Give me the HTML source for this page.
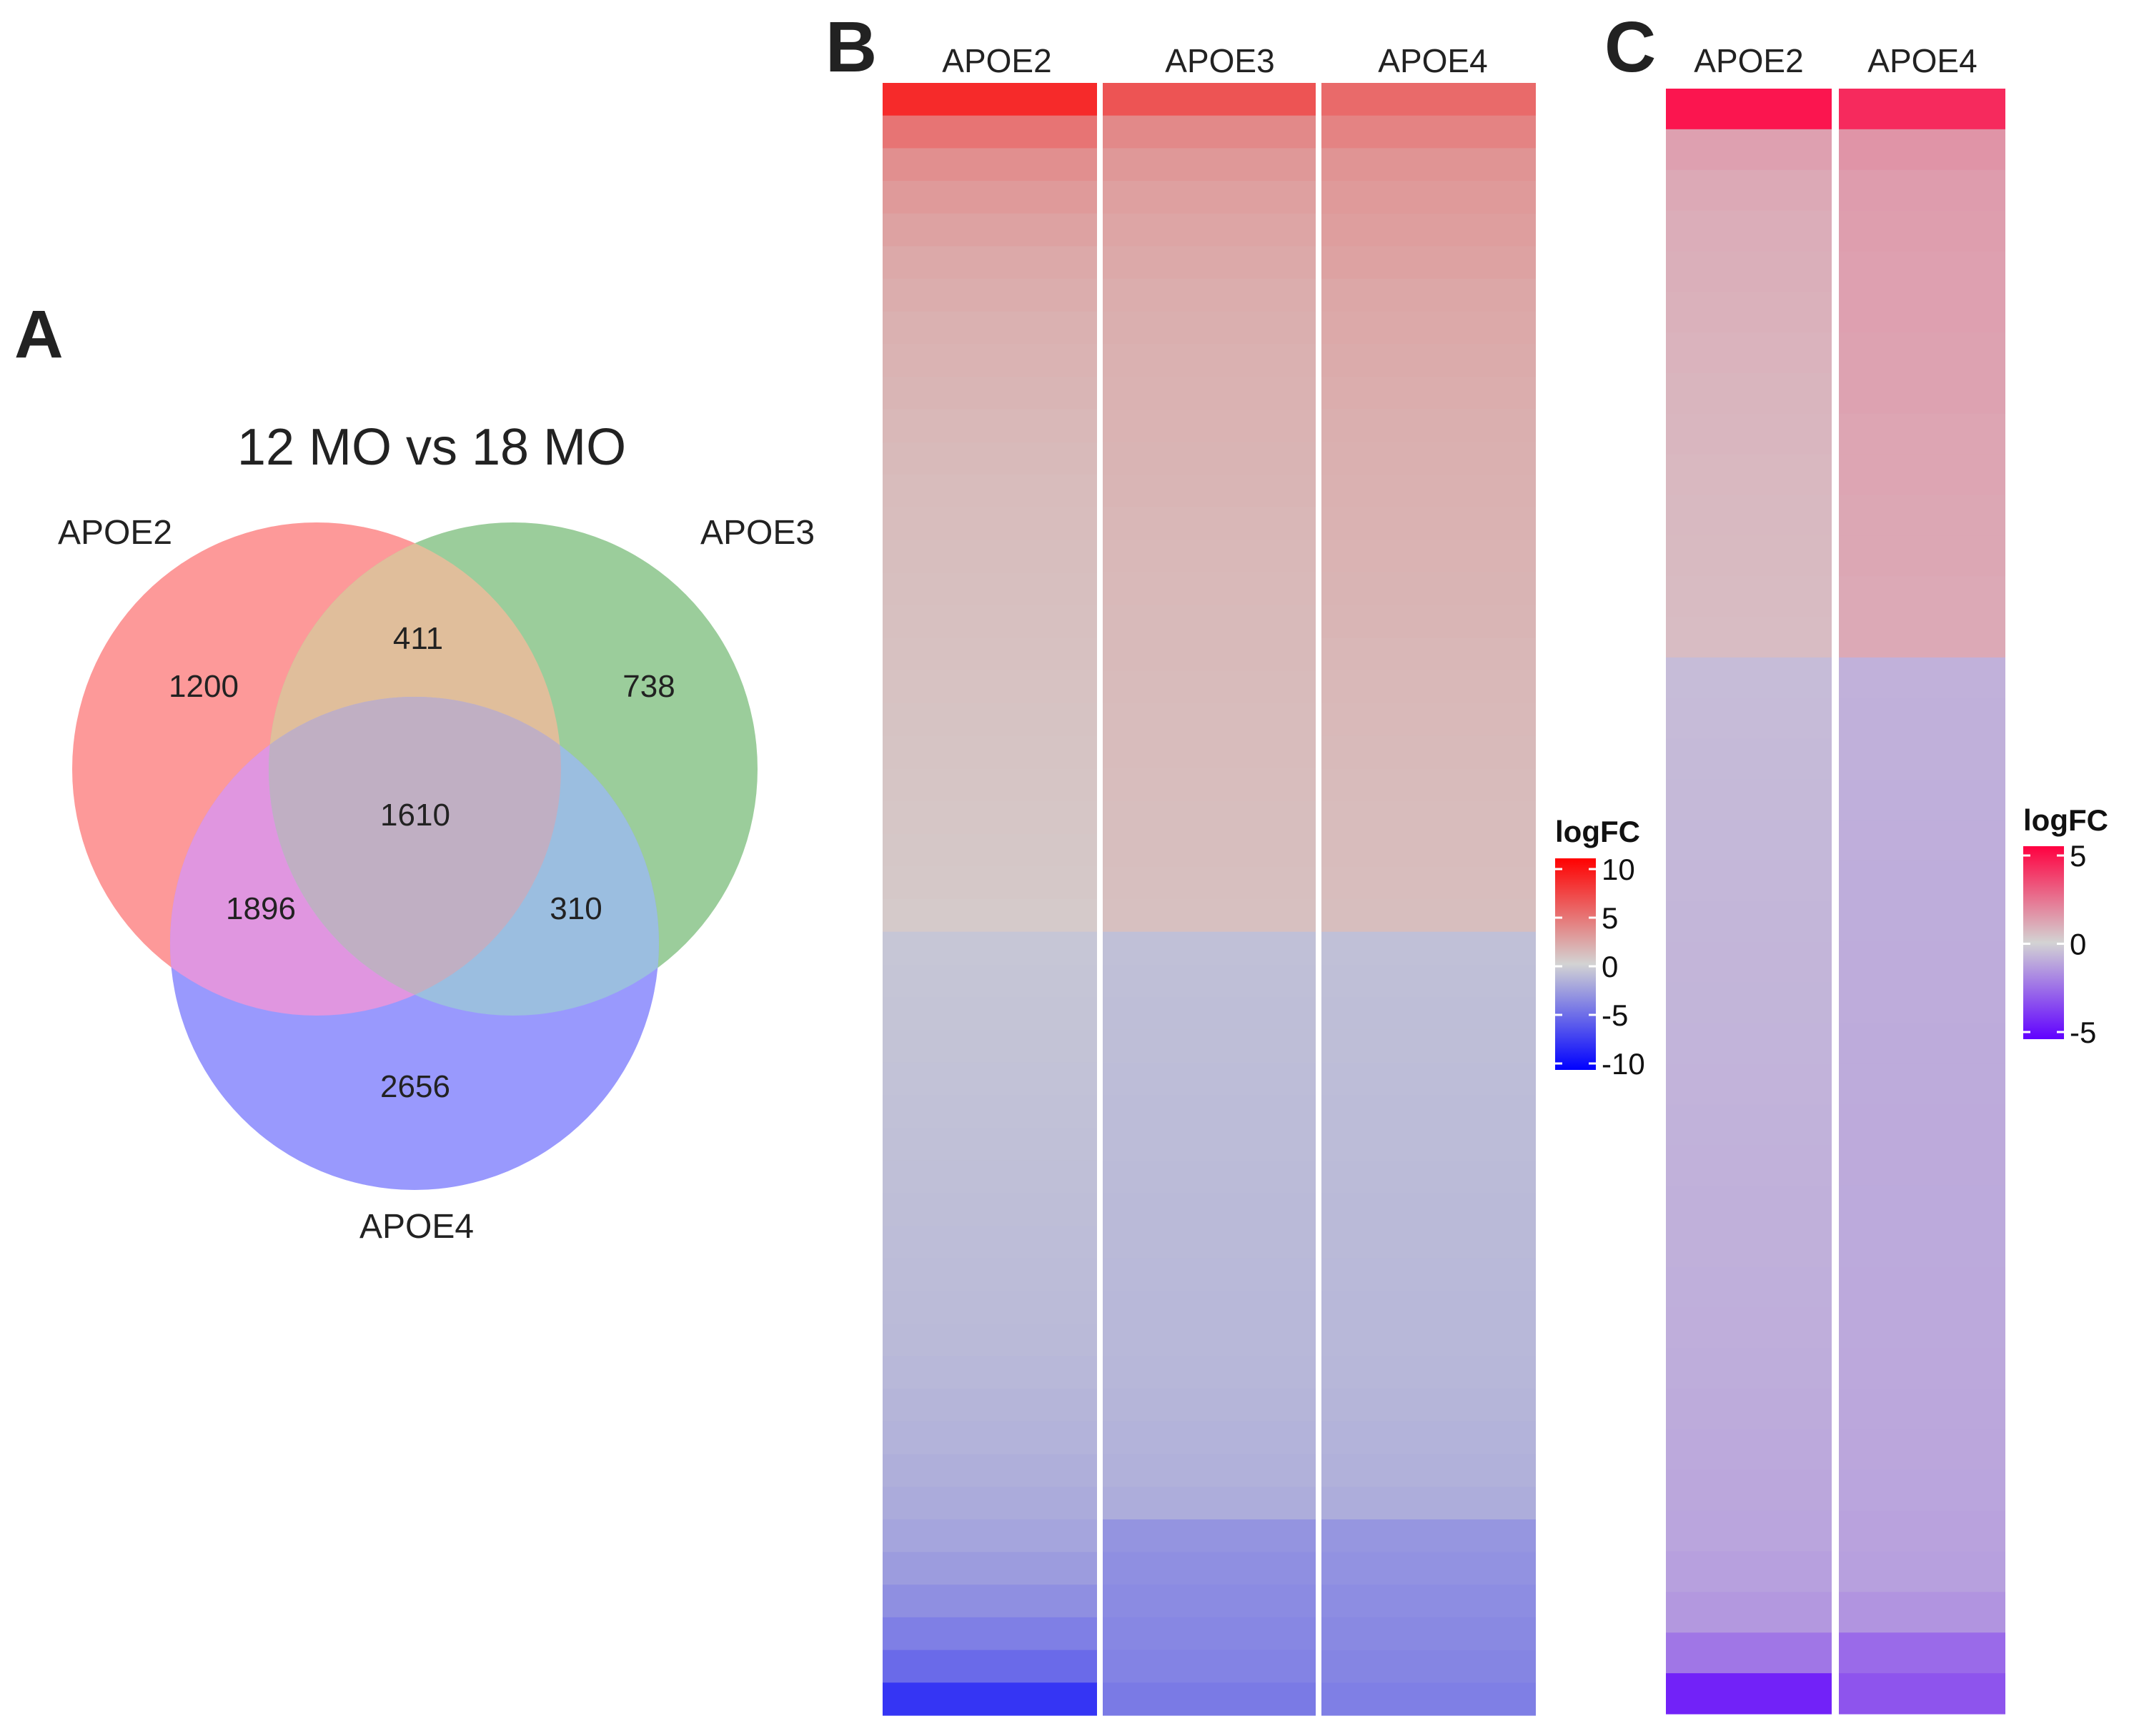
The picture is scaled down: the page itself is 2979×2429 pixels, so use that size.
<!DOCTYPE html>
<html><head><meta charset="utf-8"><style>
html,body{margin:0;padding:0;background:#fff;}
svg{display:block;font-family:"Liberation Sans",Arial,sans-serif;}
</style></head><body>
<svg id="fig" width="2979" height="2429" viewBox="0 0 2979 2429">
<defs>
<clipPath id="cA"><ellipse cx="443" cy="1076" rx="342" ry="345"/></clipPath>
<clipPath id="cB"><ellipse cx="718" cy="1076" rx="342" ry="345"/></clipPath>
<clipPath id="cC"><ellipse cx="580" cy="1320" rx="342" ry="345"/></clipPath>
<linearGradient id="gB" x1="0" y1="0" x2="0" y2="1">
<stop offset="0" stop-color="#ff0000"/><stop offset="0.5" stop-color="#d3d3d3"/><stop offset="1" stop-color="#0000ff"/></linearGradient>
<linearGradient id="gC" x1="0" y1="0" x2="0" y2="1">
<stop offset="0" stop-color="#ff0040"/><stop offset="0.5" stop-color="#d3d3d3"/><stop offset="1" stop-color="#6000ff"/></linearGradient>
</defs>
<text x="20" y="500" font-size="95" font-weight="bold" fill="#222">A</text>
<text x="604" y="650" font-size="72" text-anchor="middle" fill="#222">12 MO vs 18 MO</text>
<g>
<ellipse cx="443" cy="1076" rx="342" ry="345" fill="#fd9999"/>
<ellipse cx="718" cy="1076" rx="342" ry="345" fill="#9bcd9b"/>
<ellipse cx="580" cy="1320" rx="342" ry="345" fill="#9999fd"/>
<g clip-path="url(#cA)"><ellipse cx="718" cy="1076" rx="342" ry="345" fill="#e0be9b"/></g>
<g clip-path="url(#cA)"><ellipse cx="580" cy="1320" rx="342" ry="345" fill="#e096e0"/></g>
<g clip-path="url(#cB)"><ellipse cx="580" cy="1320" rx="342" ry="345" fill="#9bbee0"/></g>
<g clip-path="url(#cA)"><g clip-path="url(#cB)"><ellipse cx="580" cy="1320" rx="342" ry="345" fill="#c0afc3"/></g></g>
</g>
<g font-size="48" fill="#222">
<text x="161" y="761" text-anchor="middle">APOE2</text>
<text x="1060" y="761" text-anchor="middle">APOE3</text>
<text x="583" y="1732" text-anchor="middle">APOE4</text>
</g>
<g font-size="44" fill="#222" text-anchor="middle">
<text x="285" y="975">1200</text>
<text x="585" y="908">411</text>
<text x="908" y="975">738</text>
<text x="581" y="1155">1610</text>
<text x="365" y="1286">1896</text>
<text x="806" y="1286">310</text>
<text x="581" y="1535">2656</text>
</g>
<text x="1155" y="100" font-size="100" font-weight="bold" fill="#222">B</text>
<text x="2245" y="100" font-size="100" font-weight="bold" fill="#222">C</text>
<g font-size="46" fill="#222" text-anchor="middle">
<text x="1395" y="101">APOE2</text>
<text x="1707" y="101">APOE3</text>
<text x="2005" y="101">APOE4</text>
<text x="2447" y="101">APOE2</text>
<text x="2690" y="101">APOE4</text>
</g>
<g id="heatB"></g>
<g id="heatC"></g>
<g>
<text x="2176" y="1178" font-size="42" font-weight="bold" fill="#111">logFC</text>
<rect x="2176" y="1201" width="57" height="296" fill="url(#gB)"/>
<g id="legBticks"></g>
</g>
<g>
<text x="2831" y="1162" font-size="42" font-weight="bold" fill="#111">logFC</text>
<rect x="2831" y="1184" width="57" height="270" fill="url(#gC)"/>
<g id="legCticks"></g>
</g>
</svg>
<script>
const bApoe2 = [8,4.5,3.2,2.7,2.3,2.0,1.8,1.6,1.5,1.4,1.3,1.2,1.1,1.05,1.0,0.95,0.9,0.85,0.8,0.75,0.7,0.65,0.6,0.55,0.5,0.45,-0.6,-0.65,-0.7,-0.75,-0.8,-0.85,-0.9,-0.95,-1.0,-1.05,-1.1,-1.15,-1.2,-1.3,-1.4,-1.5,-1.7,-1.9,-2.2,-2.6,-3.2,-4,-5,-7.5];
const bApoe3 = [6,3.5,2.8,2.4,2.2,2.0,1.8,1.7,1.6,1.55,1.5,1.45,1.4,1.35,1.3,1.25,1.2,1.2,1.15,1.1,1.1,1.05,1.0,1.0,0.95,0.9,-0.9,-0.95,-1.0,-1.0,-1.05,-1.1,-1.1,-1.15,-1.2,-1.2,-1.25,-1.3,-1.3,-1.35,-1.4,-1.5,-1.6,-1.8,-3.0,-3.2,-3.4,-3.6,-3.8,-4.2];
const bApoe4 = [5,3.8,3.0,2.7,2.5,2.3,2.1,2.0,1.9,1.8,1.7,1.65,1.6,1.55,1.5,1.45,1.4,1.35,1.3,1.25,1.2,1.15,1.1,1.1,1.05,1.0,-0.9,-0.95,-1.0,-1.0,-1.05,-1.1,-1.1,-1.15,-1.2,-1.2,-1.25,-1.3,-1.3,-1.35,-1.4,-1.5,-1.6,-1.8,-2.9,-3.1,-3.3,-3.5,-3.7,-4.0];
const cApoe2 = [4.5,1.2,1.0,0.9,0.85,0.8,0.75,0.7,0.68,0.65,0.62,0.6,0.58,0.55,-0.55,-0.57,-0.6,-0.62,-0.64,-0.66,-0.68,-0.7,-0.72,-0.74,-0.76,-0.78,-0.8,-0.82,-0.84,-0.86,-0.88,-0.9,-0.95,-1.0,-1.05,-1.1,-1.2,-1.4,-2.2,-4.2];
const cApoe4 = [4.0,1.5,1.3,1.25,1.2,1.2,1.15,1.15,1.1,1.1,1.05,1.05,1.0,1.0,-0.8,-0.82,-0.84,-0.86,-0.88,-0.9,-0.9,-0.92,-0.92,-0.94,-0.94,-0.96,-0.96,-0.98,-0.98,-1.0,-1.0,-1.02,-1.04,-1.06,-1.1,-1.15,-1.2,-1.5,-2.5,-3.0];
const bTicks = [10,5,0,-5,-10];
const cTicks = [5,0,-5];

const NS = 'http://www.w3.org/2000/svg';
function colorScale(v, max, hi, lo){
  const mid=[211,211,211];
  let t=Math.max(-1,Math.min(1,v/max));
  const end=t>=0?hi:lo; t=Math.abs(t);
  const c=mid.map((m,i)=>Math.round(m+(end[i]-m)*t));
  return 'rgb('+c.join(',')+')';
}
function drawCol(g, vals, x0, x1, y0, y1, max, hi, lo, name){
  const h=(y1-y0)/vals.length;
  vals.forEach((v,i)=>{
    const r=document.createElementNS(NS,'rect');
    r.setAttribute('x',x0); r.setAttribute('width',x1-x0);
    r.setAttribute('y',y0+i*h); r.setAttribute('height',h+0.6);
    r.setAttribute('fill',colorScale(v,max,hi,lo));
    
    
    g.appendChild(r);
  });
}
const gB=document.getElementById('heatB'), gC=document.getElementById('heatC');
const redB=[255,0,0], blueB=[0,0,255], redC=[255,0,64], blueC=[96,0,255];
drawCol(gB,bApoe2,1235,1535,116,2400,10,redB,blueB,'heat-cell-b-apoe2');
drawCol(gB,bApoe3,1543,1841,116,2400,10,redB,blueB,'heat-cell-b-apoe3');
drawCol(gB,bApoe4,1849,2149,116,2400,10,redB,blueB,'heat-cell-b-apoe4');
drawCol(gC,cApoe2,2331,2563,124,2398,5,redC,blueC,'heat-cell-c-apoe2');
drawCol(gC,cApoe4,2573,2806,124,2398,5,redC,blueC,'heat-cell-c-apoe4');

function ticks(gid, vals, x, w, yTop, yBot, vmax){
  const g=document.getElementById(gid);
  vals.forEach(v=>{
    const y=yTop+(vmax-v)/(2*vmax)*(yBot-yTop);
    [[x,x+10],[x+w-10,x+w]].forEach(([a,b])=>{
      const l=document.createElementNS(NS,'line');
      l.setAttribute('x1',a);l.setAttribute('x2',b);l.setAttribute('y1',y);l.setAttribute('y2',y);
      l.setAttribute('stroke','#fff');l.setAttribute('stroke-width',3);
      
      
      g.appendChild(l);
    });
    const t=document.createElementNS(NS,'text');
    t.setAttribute('x',x+w+8);t.setAttribute('y',y+15);
    t.setAttribute('font-size','42');t.setAttribute('fill','#111');
    t.textContent=v;
    
    
    g.appendChild(t);
  });
}
ticks('legBticks',bTicks,2176,57,1216,1488,10);
ticks('legCticks',cTicks,2831,57,1197,1444,5);
</script>
</body></html>
